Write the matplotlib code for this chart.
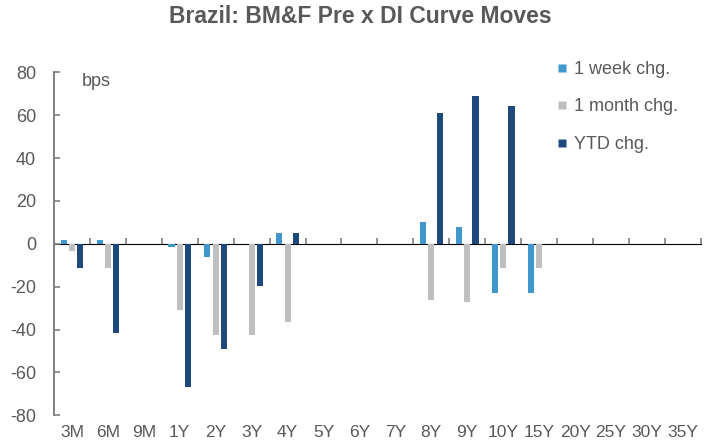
import matplotlib
matplotlib.use("Agg")
import matplotlib.pyplot as plt
from matplotlib.lines import Line2D
import numpy as np

plt.rcParams['font.family'] = ['Liberation Sans', 'DejaVu Sans']

categories = ["3M", "6M", "9M", "1Y", "2Y", "3Y", "4Y", "5Y", "6Y", "7Y",
              "8Y", "9Y", "10Y", "15Y", "20Y", "25Y", "30Y", "35Y"]
week_chg = [2, 2, 0, -1.5, -6, 0, 5, 0, 0, 0, 10, 8, -23, -23, 0, 0, 0, 0]
month_chg = [-3.5, -11.5, 0, -31, -42.5, -42.5, -36.5, 0, 0, 0, -26, -27, -11.5, -11.5, 0, 0, 0, 0]
ytd_chg = [-11.5, -41.5, 0, -67, -49, -19.5, 5, 0, 0, 0, 61, 69, 64.5, 0, 0, 0, 0, 0]
series_labels = ["1 week chg.", "1 month chg.", "YTD chg."]
colors = ["#3F97CD", "#BFBFBF", "#1F497D"]
yticks = [-80, -60, -40, -20, 0, 20, 40, 60, 80]

text_c = "#595959"
axis_c = "#7F7F7F"

fig = plt.figure(figsize=(7.13, 4.45), dpi=100)
ax = fig.add_axes([0.0757, 0.0667, 0.9073, 0.7708])

x = np.arange(len(categories))
w = 0.17
offsets = [-0.23, 0.0, 0.23]
for vals, off, c in zip([week_chg, month_chg, ytd_chg], offsets, colors):
    ax.bar(x + off, vals, width=w, color=c, edgecolor="none", zorder=2)

ax.set_xlim(-0.5, len(categories) - 0.5)
ax.set_ylim(-80, 80)
ax.set_yticks(yticks)
ax.set_yticklabels([str(v) for v in yticks])
ax.tick_params(axis='y', direction='in', length=4, width=1.2, color=axis_c,
               labelcolor=text_c, labelsize=13, pad=13)

ax.set_xticks(x)
ax.set_xticklabels(categories)
ax.tick_params(axis='x', length=0, labelcolor=text_c, labelsize=12.5, pad=7)

for s in ["top", "right", "bottom"]:
    ax.spines[s].set_visible(False)
ax.spines["left"].set_color(axis_c)
ax.spines["left"].set_linewidth(1.4)

# zero line with category separators
sec = ax.secondary_xaxis(0.5)
sec.set_xticks(np.arange(-0.5, len(categories)))
sec.set_xticklabels([])
sec.tick_params(axis='x', direction='out', length=4, width=1.2, color=axis_c)
sec.spines["bottom"].set_color(axis_c)
sec.spines["bottom"].set_linewidth(1.4)

ax.text(0.28, 75.5, "bps", fontsize=13, color=text_c, va='center', ha='left')

handles = [Line2D([], [], marker='s', linestyle='none', markersize=6,
                  markerfacecolor=c, markeredgecolor='none') for c in colors]
leg = ax.legend(handles, series_labels, loc='upper left',
                bbox_to_anchor=(0.755, 1.075), frameon=False, fontsize=13,
                handlelength=0.6, handletextpad=0.35, labelspacing=1.13,
                labelcolor=text_c, borderpad=0.3)

fig.text(0.505, 0.962, "Brazil: BM&F Pre x DI Curve Moves", ha='center', va='center',
         fontsize=16.5, fontweight='bold', color=text_c)

fig.savefig("out.png", dpi=100)
